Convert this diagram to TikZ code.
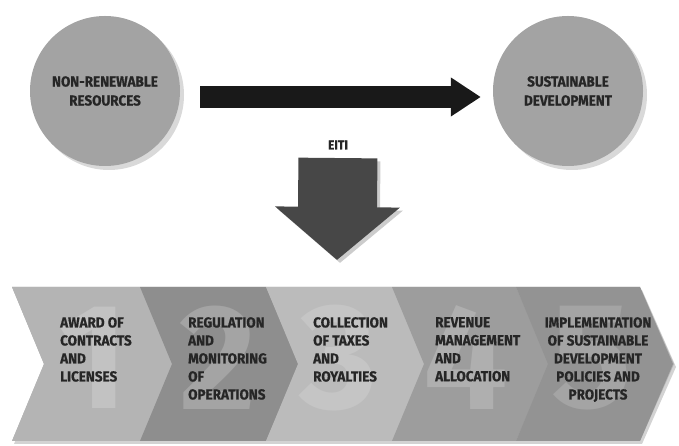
\documentclass[tikz,border=0pt]{standalone}
\usepackage{fontspec}
\setmainfont{Fira Sans}
\newfontfamily\labelfont[FakeStretch=0.93,FakeBold=0.6]{Fira Sans Bold}
\newfontfamily\numfont{Fira Sans Bold}
\usetikzlibrary{arrows.meta,shadows}
\definecolor{ballgray}{HTML}{A3A3A3}
\definecolor{inkgray}{HTML}{262626}
\definecolor{stageA}{HTML}{B4B4B4}
\definecolor{stageB}{HTML}{8E8E8E}
\definecolor{stageC}{HTML}{BBBBBB}
\definecolor{stageD}{HTML}{9D9D9D}
\definecolor{stageE}{HTML}{939393}
\tikzset{
  ball/.style={circle,fill=ballgray,minimum size=150pt,inner sep=0pt,align=center,
    text=inkgray,font=\labelfont\fontsize{14.5}{19}\selectfont,
    drop shadow={shadow xshift=4pt,shadow yshift=-4pt,opacity=0.3}},
  stagetext/.style={anchor=north west,inner sep=0pt,align=left,text=inkgray,
    font=\labelfont\fontsize{14.5}{18}\selectfont},
  bignum/.style={inner sep=0pt,font=\numfont\fontsize{150}{150}\selectfont},
  fatarrow/.style={draw=black!90,line width=22pt,-{Triangle[width=37pt,length=30pt]}},
  downarrow/.style={draw=black!72,line width=79pt,-{Triangle[width=122pt,length=53pt]}}
}
\begin{document}
\begin{tikzpicture}
\useasboundingbox (0pt,0pt) rectangle (679pt,446pt);
% top row
\node[ball] (nonrenew) at (105pt,355pt) {NON-RENEWABLE\\RESOURCES};
\node[ball] (sustain) at (568pt,355pt) {SUSTAINABLE\\DEVELOPMENT};
\draw[fatarrow,shorten <=20pt,shorten >=12pt] ([yshift=-6pt]nonrenew.east) -- ([yshift=-6pt]sustain.west);
% EITI arrow
\node[text=inkgray,font=\labelfont\fontsize{13}{15}\selectfont] (eiti) at (338pt,301pt) {EITI};
\coordinate (tip) at (337pt,186pt);
\draw[downarrow,draw=black!20,transform canvas={shift={(3pt,-3pt)}},shorten <=5pt] (eiti.south) -- (tip);
\draw[downarrow,shorten <=5pt] (eiti.south) -- (tip);
% band of stages
\fill[drop shadow={shadow xshift=2pt,shadow yshift=-3pt,opacity=0.35},stageA]
  (12pt,159pt) -- (640pt,159pt) -- (674pt,82pt) -- (640pt,5pt) -- (12pt,5pt) -- (44pt,82pt) -- cycle;
\foreach \xa/\xb/\col in {12/140/stageA,140/266/stageB,266/392/stageC,392/516/stageD,516/640/stageE}
  \fill[\col] (\xa pt,159pt) -- (\xb pt,159pt) -- (\xb pt+33pt,82pt) -- (\xb pt,5pt) -- (\xa pt,5pt) -- (\xa pt+32pt,82pt) -- cycle;
\node[bignum,text=stageA!82!white] (d1) at (93pt,88pt) {1};
\node[bignum,text=stageB!80!white] (d2) at (218pt,88pt) {2};
\node[bignum,text=stageC!85!white] (d3) at (338pt,88pt) {3};
\node[bignum,text=stageD!82!white] (d4) at (466pt,88pt) {4};
\node[bignum,text=stageE!84!white] (d5) at (592pt,88pt) {5};
\node[stagetext] (s1) at (60pt,129pt) {AWARD OF\\CONTRACTS\\AND\\LICENSES};
\node[stagetext] (s2) at (188pt,129pt) {REGULATION\\AND\\MONITORING\\OF\\OPERATIONS};
\node[stagetext] (s3) at (313pt,129pt) {COLLECTION\\OF TAXES\\AND\\ROYALTIES};
\node[stagetext] (s4) at (435pt,129pt) {REVENUE\\MANAGEMENT\\AND\\ALLOCATION};
\node[stagetext,anchor=north,align=center] (s5) at (598pt,129pt) {IMPLEMENTATION\\OF SUSTAINABLE\\DEVELOPMENT\\POLICIES AND\\PROJECTS};
\end{tikzpicture}
\end{document}
